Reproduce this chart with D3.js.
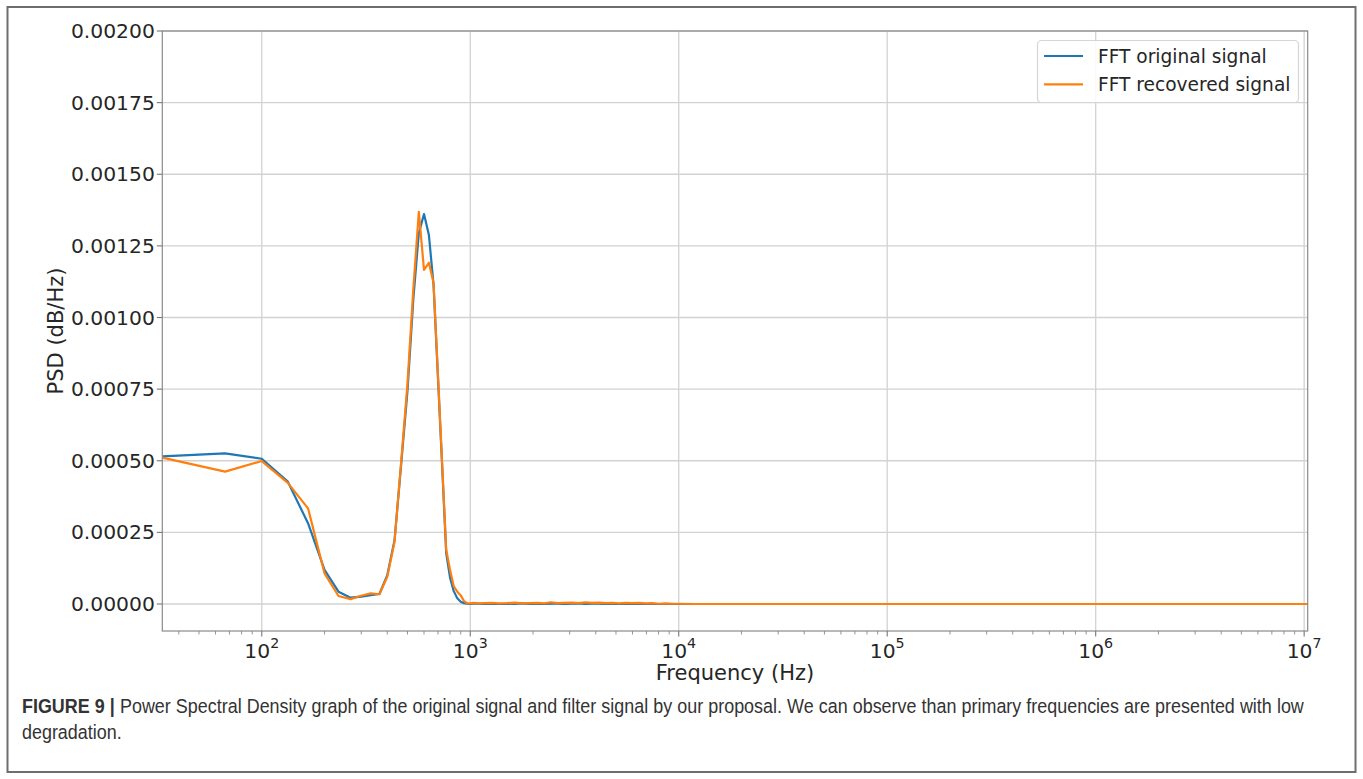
<!DOCTYPE html>
<html>
<head>
<meta charset="utf-8">
<script src="https://cdn.jsdelivr.net/npm/d3@7"></script>
<style>
  html, body { margin: 0; padding: 0; background: #fff; }
  svg { display: block; }
</style>
</head>
<body>
<svg id="chart" width="1363" height="779"></svg>
<script>
// ---------- DATA ----------
const freqLow = [33.33, 66.67, 100, 133.33, 166.67, 200, 233.33, 266.67, 300, 333.33,
  366.67, 400, 433.33, 466.67, 500, 533.33, 566.67, 600, 633.33, 666.67,
  700, 733.33, 766.67, 800, 833.33, 866.67, 900, 933.33, 966.67, 1000];
const origLow = [0.000515, 0.000526, 0.000507, 0.000427, 0.000282, 0.000119, 0.000043, 0.000022, 0.000026, 0.000031,
  0.000035, 0.000101, 0.000223, 0.000491, 0.000745, 0.001065, 0.001294, 0.001361, 0.001288, 0.001115,
  0.000790, 0.000480, 0.000178, 0.000092, 0.000045, 0.000020, 0.000008, 0.000003, 0.000001, 0.000000];
const recLow = [0.000511, 0.000462, 0.000499, 0.000423, 0.000334, 0.000107, 0.000028, 0.000017, 0.000029, 0.000037,
  0.000034, 0.000095, 0.000217, 0.000500, 0.000770, 0.001100, 0.001369, 0.001166, 0.001191, 0.001121,
  0.000800, 0.000490, 0.000190, 0.000119, 0.000062, 0.000043, 0.000030, 0.000010, 0.000003, 0.000002];

const freqTail = [1033, 1100, 1167, 1267, 1367, 1500, 1633, 1767, 1933, 2100,
  2267, 2433, 2633, 2833, 3067, 3300, 3567, 3833, 4133, 4467,
  4800, 5167, 5567, 6000, 6433, 6933, 7467, 8033, 8667, 9333,
  10000, 12000, 15000, 20000, 40000, 100000, 1000000, 10400000];
const origTail = [0.000001, 0.000001, 0.000000, 0.000001, 0.000000, 0.000001, 0.000000, 0.000002, 0.000000, 0.000001,
  0.000000, 0.000001, 0.000001, 0.000000, 0.000001, 0.000002, 0.000000, 0.000001, 0.000001, 0.000000,
  0.000001, 0.000000, 0.000001, 0.000000, 0.000001, 0.000000, 0.000000, 0.000000, 0.000000, 0.000000,
  0.000000, 0.000000, 0.000000, 0.000000, 0.000000, 0.000000, 0.000000, 0.000000];
const recTail = [0.000004, 0.000002, 0.000003, 0.000004, 0.000002, 0.000003, 0.000005, 0.000002, 0.000003, 0.000004,
  0.000002, 0.000006, 0.000003, 0.000004, 0.000005, 0.000003, 0.000006, 0.000004, 0.000005, 0.000003,
  0.000004, 0.000002, 0.000004, 0.000003, 0.000004, 0.000002, 0.000003, 0.000001, 0.000002, 0.000001,
  0.000001, 0.000000, 0.000000, 0.000000, 0.000000, 0.000000, 0.000000, 0.000000];

const yTicks = [0, 0.00025, 0.0005, 0.00075, 0.001, 0.00125, 0.0015, 0.00175, 0.002];
const xTicks = [1e2, 1e3, 1e4, 1e5, 1e6, 1e7];
const xTickExp = ["2", "3", "4", "5", "6", "7"];
const seriesNames = ["FFT original signal", "FFT recovered signal"];
const seriesColors = ["#1f77b4", "#ff7f0e"];

// ---------- LAYOUT ----------
(function () {
const svg = d3.select("#chart");
const pL = 162.3, pR = 1307.7, pT = 31, pB = 631;

const x = d3.scaleLog().domain([33.33, 10400000]).range([pL, pR]);
const y = d3.scaleLinear().domain([-0.0000942, 0.002]).range([pB, pT]);

// outer frame
svg.append("rect").attr("x", 7.5).attr("y", 7).attr("width", 1348).attr("height", 765)
  .attr("fill", "none").attr("stroke", "#6e6e6e").attr("stroke-width", 2);

// grid
const grid = svg.append("g");
grid.selectAll("line.gy").data(yTicks).enter().append("line")
  .attr("x1", pL).attr("x2", pR)
  .attr("y1", d => y(d)).attr("y2", d => y(d))
  .attr("stroke", "#d2d2d2").attr("stroke-width", 1.3);
grid.selectAll("line.gx").data(xTicks).enter().append("line")
  .attr("x1", d => x(d)).attr("x2", d => x(d))
  .attr("y1", pT).attr("y2", pB)
  .attr("stroke", "#d2d2d2").attr("stroke-width", 1.3);

// lines
const origData = freqLow.map((f, i) => [f, origLow[i]]).concat(freqTail.map((f, i) => [f, origTail[i]]));
const recData = freqLow.map((f, i) => [f, recLow[i]]).concat(freqTail.map((f, i) => [f, recTail[i]]));
const line = d3.line().x(d => x(d[0])).y(d => y(d[1]));
const plot = svg.append("g");
[origData, recData].forEach((data, i) => {
  plot.append("path").datum(data).attr("d", line)
    .attr("fill", "none").attr("stroke", seriesColors[i])
    .attr("stroke-width", 2.2).attr("stroke-linejoin", "round");
});

// spines
svg.append("rect").attr("x", pL).attr("y", pT).attr("width", pR - pL).attr("height", pB - pT)
  .attr("fill", "none").attr("stroke", "#8a8a8a").attr("stroke-width", 1.2);

// y axis
const yAxis = svg.append("g");
yTicks.forEach(t => {
  yAxis.append("line").attr("x1", pL - 5.5).attr("x2", pL).attr("y1", y(t)).attr("y2", y(t))
    .attr("stroke", "#777").attr("stroke-width", 1.1);
  yAxis.append("text").attr("x", pL - 7.5).attr("y", y(t) + 7)
    .attr("text-anchor", "end").attr("font-family", "DejaVu Sans").attr("font-size", 20.3)
    .attr("fill", "#262626").text(t.toFixed(5));
});

// x axis ticks (major + minor)
const xAxis = svg.append("g");
const minorTicks = x.ticks().filter(t => !xTicks.includes(t));
minorTicks.forEach(t => {
  xAxis.append("line").attr("x1", x(t)).attr("x2", x(t)).attr("y1", pB).attr("y2", pB + 3.5)
    .attr("stroke", "#888").attr("stroke-width", 0.9);
});
xTicks.forEach((t, i) => {
  xAxis.append("line").attr("x1", x(t)).attr("x2", x(t)).attr("y1", pB).attr("y2", pB + 5.5)
    .attr("stroke", "#777").attr("stroke-width", 1.1);
  const tx = xAxis.append("text").attr("x", x(t)).attr("y", 657.5)
    .attr("text-anchor", "middle").attr("font-family", "DejaVu Sans").attr("font-size", 20.3)
    .attr("fill", "#262626");
  tx.append("tspan").text("10");
  tx.append("tspan").attr("font-size", 14.2).attr("dy", -9.2).text(xTickExp[i]);
});

// axis labels
svg.append("text").attr("x", (pL + pR) / 2).attr("y", 679.5)
  .attr("text-anchor", "middle").attr("font-family", "DejaVu Sans").attr("font-size", 21)
  .attr("fill", "#262626").text("Frequency (Hz)");
svg.append("text").attr("transform", `translate(63,${(pT + pB) / 2}) rotate(-90)`)
  .attr("text-anchor", "middle").attr("font-family", "DejaVu Sans").attr("font-size", 21)
  .attr("fill", "#262626").text("PSD (dB/Hz)");

// legend
const lg = svg.append("g");
lg.append("rect").attr("x", 1037.5).attr("y", 40.5).attr("width", 261).attr("height", 62).attr("rx", 4)
  .attr("fill", "#fff").attr("fill-opacity", 0.85).attr("stroke", "#d6d6d6").attr("stroke-width", 1.2);
seriesNames.forEach((name, i) => {
  const ly = 56 + i * 28.3;
  lg.append("line").attr("x1", 1044).attr("x2", 1083).attr("y1", ly).attr("y2", ly)
    .attr("stroke", seriesColors[i]).attr("stroke-width", 2.2);
  lg.append("text").attr("x", 1098).attr("y", ly + 6.6).attr("font-family", "DejaVu Sans")
    .attr("font-size", 18.6).attr("fill", "#262626").text(name);
});

// caption (justified first line, condensed face)
const cap = svg.append("g");
const capScale = 0.92;
const capText = "Power Spectral Density graph of the original signal and filter signal by our proposal. We can observe than primary frequencies are presented with low";
const l1 = cap.append("text").attr("x", 22).attr("y", 713).attr("font-family", "Liberation Sans")
  .attr("font-size", 19.5).attr("fill", "#333");
l1.append("tspan").attr("font-weight", "bold").text("FIGURE 9 | ");
l1.append("tspan").text(capText);
const l2 = cap.append("text").attr("x", 22).attr("y", 739).attr("font-family", "Liberation Sans")
  .attr("font-size", 19.5).attr("fill", "#333").text("degradation.");
const natural = l1.node().getComputedTextLength();
const nSpaces = ("FIGURE 9 | " + capText).split(" ").length - 1;
const ws = (1283 / capScale - natural) / nSpaces;
l1.style("word-spacing", ws + "px");
[l1, l2].forEach(t => t.attr("transform", `translate(22,0) scale(${capScale},1) translate(-22,0)`));
})();
</script>
</body>
</html>
